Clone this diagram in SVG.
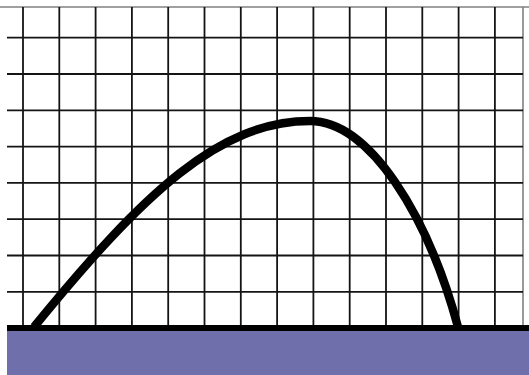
<svg xmlns="http://www.w3.org/2000/svg" width="529" height="375" viewBox="0 0 529 375">
<style>
.g{stroke:#141414;stroke-width:1.8;fill:none}
.b{stroke:#808080;stroke-width:1.6;fill:none}
</style>
<rect x="0" y="0" width="529" height="375" fill="#ffffff"/>
<g id="grid">
<line class="b" x1="0" y1="7" x2="529" y2="7"/>
<line class="b" x1="523" y1="7" x2="523" y2="326"/>
<g class="g">
<line x1="7" y1="37.7" x2="523" y2="37.7"/>
<line x1="7" y1="74" x2="523" y2="74"/>
<line x1="7" y1="110.3" x2="523" y2="110.3"/>
<line x1="7" y1="146.6" x2="523" y2="146.6"/>
<line x1="7" y1="182.9" x2="523" y2="182.9"/>
<line x1="7" y1="219.2" x2="523" y2="219.2"/>
<line x1="7" y1="255.5" x2="523" y2="255.5"/>
<line x1="7" y1="291.8" x2="523" y2="291.8"/>
<line x1="23" y1="7" x2="23" y2="326"/>
<line x1="59.3" y1="7" x2="59.3" y2="326"/>
<line x1="95.6" y1="7" x2="95.6" y2="326"/>
<line x1="131.9" y1="7" x2="131.9" y2="326"/>
<line x1="168.2" y1="7" x2="168.2" y2="326"/>
<line x1="204.5" y1="7" x2="204.5" y2="326"/>
<line x1="240.8" y1="7" x2="240.8" y2="326"/>
<line x1="277.1" y1="7" x2="277.1" y2="326"/>
<line x1="313.4" y1="7" x2="313.4" y2="326"/>
<line x1="349.7" y1="7" x2="349.7" y2="326"/>
<line x1="386" y1="7" x2="386" y2="326"/>
<line x1="422.3" y1="7" x2="422.3" y2="326"/>
<line x1="458.6" y1="7" x2="458.6" y2="326"/>
<line x1="494.9" y1="7" x2="494.9" y2="326"/>
</g>
</g>
<g id="ground">
<rect x="7" y="330" width="522" height="45" fill="#6f6fab"/>
<rect x="7" y="325" width="522" height="6" fill="#000000"/>
</g>
<g id="trajectory">
<path d="M34,327 C144,192 220,121 310,121 C370,121 428,216 458,327" stroke="#000000" stroke-width="8.5" fill="none"/>
</g>
</svg>
